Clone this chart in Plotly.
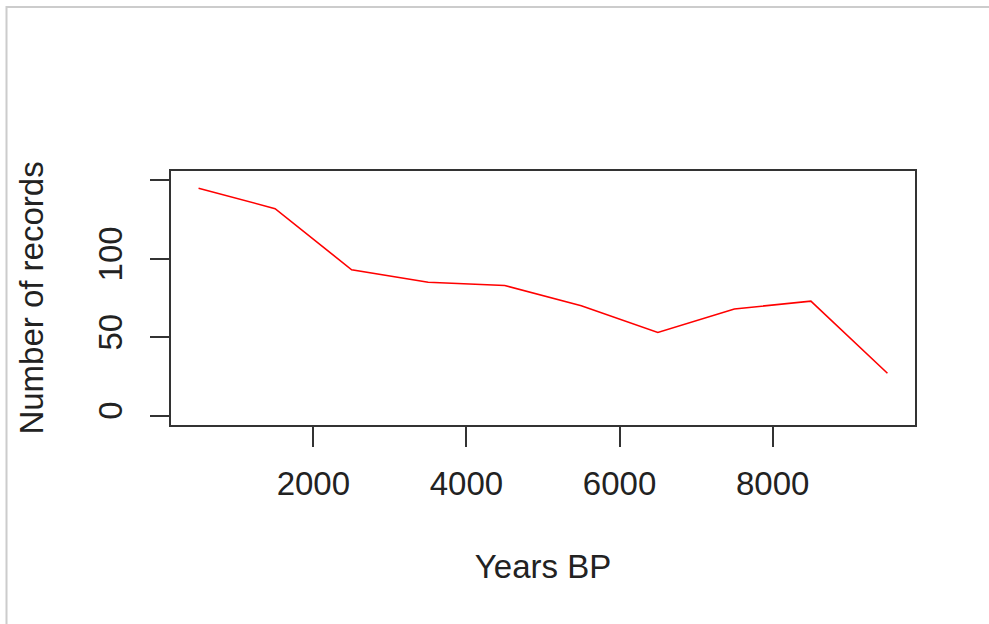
import plotly.graph_objects as go

years_bp = [500, 1500, 2500, 3500, 4500, 5500, 6500, 7500, 8500, 9500]
records = [145, 132, 93, 85, 83, 70, 53, 68, 73, 27]
x_ticks = [2000, 4000, 6000, 8000]
y_ticks = [0, 50, 100, 150]
y_tick_text = ["0", "50", "100", ""]

W, H = 989, 624
L, R, T, B = 171, 915, 171, 425

fig = go.Figure()
fig.add_trace(go.Scatter(x=years_bp, y=records, mode="lines",
                         line=dict(color="#ff0000", width=1.6), showlegend=False))

font = dict(family="Liberation Sans, Arial, sans-serif", size=33, color="#222222")

def px_x(p):
    return (p - L) / (R - L)

def px_y(p):
    return (B - p) / (B - T)

fig.update_layout(
    width=W, height=H,
    margin=dict(l=L, r=W - R, t=T, b=H - B, autoexpand=False),
    paper_bgcolor="white", plot_bgcolor="white",
    font=font,
    xaxis=dict(range=[140, 9860], tickvals=x_ticks, ticks="outside", ticklen=20,
               tickwidth=2, tickcolor="#333333", showline=True, linecolor="#333333",
               linewidth=2, mirror=True, showgrid=False, zeroline=False,
               tickfont=font, ticklabelstandoff=8,
               title=dict(text="Years BP", font=font, standoff=54)),
    yaxis=dict(range=[-6, 156], tickvals=y_ticks, ticktext=y_tick_text, ticks="outside",
               ticklen=19, tickwidth=2, tickcolor="#333333", showline=True,
               linecolor="#333333", linewidth=2, mirror=True, showgrid=False,
               zeroline=False, tickangle=-90, tickfont=font, ticklabelstandoff=15,
               title=dict(text="Number of records", font=font, standoff=38)),
    shapes=[dict(type="path", xref="paper", yref="paper",
                 path=f"M {px_x(6.5)} {px_y(700)} L {px_x(6.5)} {px_y(7)} L {px_x(1000)} {px_y(7)}",
                 line=dict(color="#cccccc", width=2))],
)

fig.write_html("out.html")
